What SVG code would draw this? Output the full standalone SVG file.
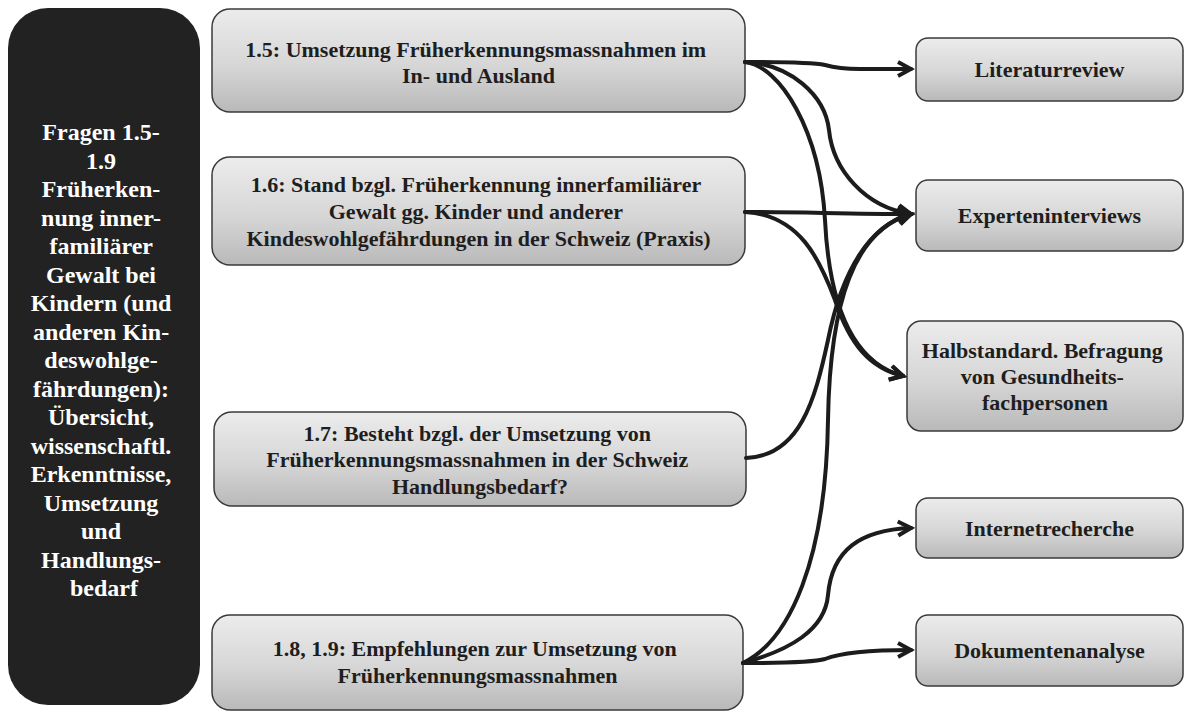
<svg xmlns="http://www.w3.org/2000/svg" width="1184" height="713" viewBox="0 0 1184 713">
  <defs>
    <linearGradient id="boxFill" x1="0" y1="0" x2="0" y2="1">
      <stop offset="0" stop-color="#ececec"/>
      <stop offset="0.55" stop-color="#d6d6d6"/>
      <stop offset="1" stop-color="#b9b9b9"/>
    </linearGradient>
    <marker id="arrow" viewBox="-16 -10 20 20" refX="0" refY="0" markerWidth="20" markerHeight="20" markerUnits="userSpaceOnUse" orient="auto">
      <path d="M-13,-7 L0,0 L-13,7" fill="none" stroke="#1c1c1c" stroke-width="4" stroke-linejoin="miter"/>
    </marker>
  </defs>
  <style>
    .box { fill: url(#boxFill); stroke: #3a3a3a; stroke-width: 1.5; }
    .dark { fill: #222222; }
    .lbl { font-family: "Liberation Serif", "Times New Roman", serif; font-weight: bold; font-size: 22px; fill: #1e1e1e; text-anchor: middle; }
    .side { font-family: "Liberation Serif", "Times New Roman", serif; font-weight: bold; font-size: 24px; fill: #ffffff; text-anchor: middle; }
    .link { fill: none; stroke: #1c1c1c; stroke-width: 4; stroke-linecap: round; marker-end: url(#arrow); }
  </style>
  <rect width="1184" height="713" fill="#ffffff"/>

  <!-- overall topic column -->
  <g id="topic">
    <rect class="dark" x="8" y="8" width="192" height="697" rx="40" ry="40"/>
    <text class="side">
      <tspan x="104" y="140">Fragen 1.5-</tspan>
      <tspan x="104" y="168.5">1.9</tspan>
      <tspan x="104" y="197">Früherken-</tspan>
      <tspan x="104" y="225.5">nung inner-</tspan>
      <tspan x="104" y="254">familiärer</tspan>
      <tspan x="104" y="282.5">Gewalt bei</tspan>
      <tspan x="104" y="311">Kindern (und</tspan>
      <tspan x="104" y="339.5">anderen Kin-</tspan>
      <tspan x="104" y="368">deswohlge-</tspan>
      <tspan x="104" y="396.5">fährdungen):</tspan>
      <tspan x="104" y="425">Übersicht,</tspan>
      <tspan x="104" y="453.5">wissenschaftl.</tspan>
      <tspan x="104" y="482">Erkenntnisse,</tspan>
      <tspan x="104" y="510.5">Umsetzung</tspan>
      <tspan x="104" y="539">und</tspan>
      <tspan x="104" y="567.5">Handlungs-</tspan>
      <tspan x="104" y="596">bedarf</tspan>
    </text>
  </g>

  <!-- questions -->
  <g id="q15">
    <rect class="box" x="212" y="9" width="533" height="103" rx="18" ry="18"/>
    <text class="lbl">
      <tspan x="478.5" y="57">1.5: Umsetzung Früherkennungsmassnahmen im</tspan>
      <tspan x="478.5" y="83">In- und Ausland</tspan>
    </text>
  </g>
  <g id="q16">
    <rect class="box" x="212" y="157" width="533" height="108" rx="18" ry="18"/>
    <text class="lbl">
      <tspan x="478.5" y="192">1.6: Stand bzgl. Früherkennung innerfamiliärer</tspan>
      <tspan x="478.5" y="219">Gewalt gg. Kinder und anderer</tspan>
      <tspan x="478.5" y="246">Kindeswohlgefährdungen in der Schweiz (Praxis)</tspan>
    </text>
  </g>
  <g id="q17">
    <rect class="box" x="214" y="412" width="532" height="94" rx="18" ry="18"/>
    <text class="lbl">
      <tspan x="480" y="441">1.7: Besteht bzgl. der Umsetzung von</tspan>
      <tspan x="480" y="467">Früherkennungsmassnahmen in der Schweiz</tspan>
      <tspan x="480" y="494">Handlungsbedarf?</tspan>
    </text>
  </g>
  <g id="q189">
    <rect class="box" x="212" y="615" width="531" height="95" rx="18" ry="18"/>
    <text class="lbl">
      <tspan x="477.5" y="656">1.8, 1.9: Empfehlungen zur Umsetzung von</tspan>
      <tspan x="477.5" y="683">Früherkennungsmassnahmen</tspan>
    </text>
  </g>

  <!-- methods -->
  <g id="m-literatur">
    <rect class="box" x="916" y="38" width="267" height="63" rx="12" ry="12"/>
    <text class="lbl" x="1049.5" y="77">Literaturreview</text>
  </g>
  <g id="m-experten">
    <rect class="box" x="916" y="180" width="267" height="71" rx="12" ry="12"/>
    <text class="lbl" x="1049.5" y="223">Experteninterviews</text>
  </g>
  <g id="m-befragung">
    <rect class="box" x="907" y="321" width="276" height="110" rx="14" ry="14"/>
    <text class="lbl">
      <tspan x="1045" y="358">Halbstandard. Befragung</tspan>
      <tspan x="1045" y="384">von Gesundheits-</tspan>
      <tspan x="1045" y="410">fachpersonen</tspan>
    </text>
  </g>
  <g id="m-internet">
    <rect class="box" x="916" y="498" width="267" height="60" rx="12" ry="12"/>
    <text class="lbl" x="1049.5" y="536">Internetrecherche</text>
  </g>
  <g id="m-dokumente">
    <rect class="box" x="916" y="615" width="267" height="71" rx="12" ry="12"/>
    <text class="lbl" x="1049.5" y="658">Dokumentenanalyse</text>
  </g>

  <!-- connectors -->
  <g id="connectors">
    <path class="link" d="M745,62 C800,62 815,63 825,65 C832,67 840,69 860,69 L911,69"/>
    <path class="link" d="M745,62 C790,64 825,95 829,130 C833,170 865,207 911,214"/>
    <path class="link" d="M745,62 C780,66 820,130 825,220 C829,300 850,362 903,376"/>
    <path class="link" d="M745,212 C800,212 850,214 911,214"/>
    <path class="link" d="M745,212 C800,215 820,260 835,300 C850,345 870,368 903,376"/>
    <path class="link" d="M746,458 C800,456 815,400 828,340 C842,270 870,225 911,214"/>
    <path class="link" d="M743,663 C790,640 826,560 828,420 C830,300 855,230 911,214"/>
    <path class="link" d="M743,663 C790,650 825,630 828,595 C832,550 860,530 911,528"/>
    <path class="link" d="M743,663 C790,663 815,662 825,659 C835,655 860,650 911,650"/>
  </g>
</svg>
